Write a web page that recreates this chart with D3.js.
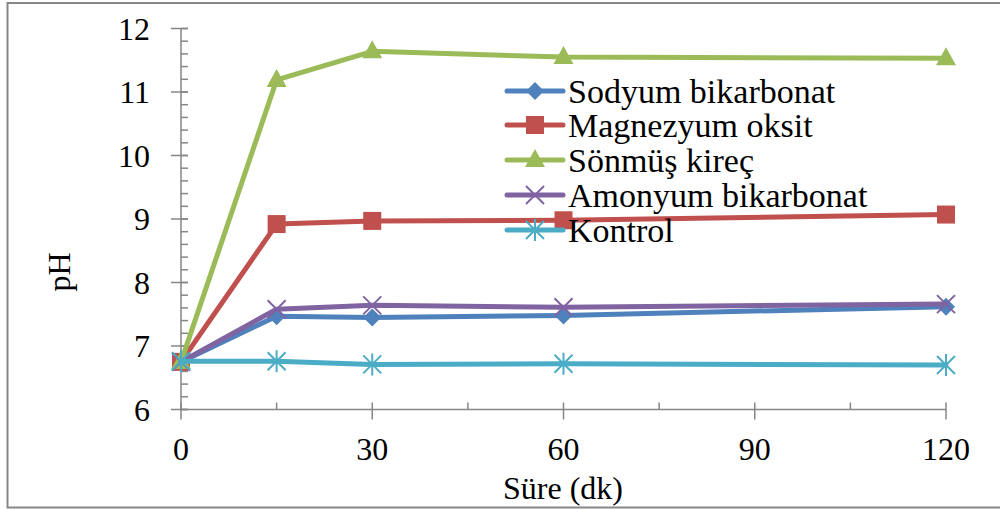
<!DOCTYPE html>
<html>
<head>
<meta charset="utf-8">
<script src="https://cdn.jsdelivr.net/npm/d3@7"></script>
<style>
  html, body { margin: 0; padding: 0; background: #fff; }
  svg { display: block; }
  text { font-family: "Liberation Serif", "DejaVu Serif", serif; fill: #000; }
</style>
</head>
<body>
<svg id="chart" width="1000" height="510"></svg>
<script>
// Sampling times (minutes)
const times = [0, 15, 30, 60, 120];

// pH readings per treatment
const sodyumBikarbonat   = [6.75, 7.47, 7.45, 7.48, 7.62];
const magnezyumOksit     = [6.75, 8.92, 8.97, 8.98, 9.07];
const sonmusKirec        = [6.75, 11.19, 11.64, 11.55, 11.53];
const amonyumBikarbonat  = [6.75, 7.58, 7.64, 7.61, 7.66];
const kontrol            = [6.76, 6.76, 6.71, 6.72, 6.70];

const seriesNames = ["Sodyum bikarbonat", "Magnezyum oksit", "Sönmüş kireç", "Amonyum bikarbonat", "Kontrol"];
const xTicks = [0, 30, 60, 90, 120];
const yTicks = [6, 7, 8, 9, 10, 11, 12];

const seriesValues = [sodyumBikarbonat, magnezyumOksit, sonmusKirec, amonyumBikarbonat, kontrol];
const colors = ["#4F81BD", "#C0504D", "#9BBB59", "#8064A2", "#4BACC6"];
const shapes = ["diamond", "square", "triangle", "x", "star"];

const svg = d3.select("#chart");
const axisColor = "#868686";

// Outer frame (open on the right)
svg.append("rect")
  .attr("x", 7.5).attr("y", 3).attr("width", 1010).attr("height", 504.5)
  .attr("fill", "none").attr("stroke", axisColor).attr("stroke-width", 2);

const x = d3.scaleLinear().domain([0, 120]).range([181, 946]);
const y = d3.scaleLinear().domain([6, 12]).range([409.5, 28.5]);

// Y axis: major ticks crossing, minor ticks inside
const yAxisG = svg.append("g");
yAxisG.append("line")
  .attr("x1", x(0)).attr("x2", x(0)).attr("y1", y(6)).attr("y2", y(12))
  .attr("stroke", axisColor).attr("stroke-width", 1.5);
const yMinor = d3.range(6, 12.001, 0.2);
yAxisG.selectAll("line.minor").data(yMinor).join("line")
  .attr("class", "minor")
  .attr("x1", x(0)).attr("x2", x(0) + 7)
  .attr("y1", d => y(d)).attr("y2", d => y(d))
  .attr("stroke", axisColor).attr("stroke-width", 1.5);
yAxisG.selectAll("line.major").data(yTicks).join("line")
  .attr("class", "major")
  .attr("x1", x(0) - 10).attr("x2", x(0) + 7)
  .attr("y1", d => y(d)).attr("y2", d => y(d))
  .attr("stroke", axisColor).attr("stroke-width", 1.5);
yAxisG.selectAll("text").data(yTicks).join("text")
  .attr("x", 150).attr("y", d => y(d))
  .attr("dy", "0.35em")
  .attr("text-anchor", "end")
  .attr("font-size", 32)
  .text(d => d);

// X axis: major ticks crossing, minor ticks inside
const xAxisG = svg.append("g");
xAxisG.append("line")
  .attr("x1", x(0)).attr("x2", x(120)).attr("y1", y(6)).attr("y2", y(6))
  .attr("stroke", axisColor).attr("stroke-width", 1.5);
const xMinor = [15, 45, 75, 105];
xAxisG.selectAll("line.minor").data(xMinor).join("line")
  .attr("class", "minor")
  .attr("x1", d => x(d)).attr("x2", d => x(d))
  .attr("y1", y(6) - 7).attr("y2", y(6))
  .attr("stroke", axisColor).attr("stroke-width", 1.5);
xAxisG.selectAll("line.major").data(xTicks).join("line")
  .attr("class", "major")
  .attr("x1", d => x(d)).attr("x2", d => x(d))
  .attr("y1", y(6) - 7).attr("y2", y(6) + 10)
  .attr("stroke", axisColor).attr("stroke-width", 1.5);
xAxisG.selectAll("text").data(xTicks).join("text")
  .attr("x", d => x(d)).attr("y", 460)
  .attr("text-anchor", "middle")
  .attr("font-size", 32)
  .text(d => d);

// Axis titles
svg.append("text")
  .attr("x", 563).attr("y", 499)
  .attr("text-anchor", "middle")
  .attr("font-size", 32)
  .text("Süre (dk)");
svg.append("text")
  .attr("transform", "translate(70,272) rotate(-90)")
  .attr("text-anchor", "middle")
  .attr("font-size", 32)
  .text("pH");

// Marker drawing
function drawMarker(g, shape, color, cx, cy) {
  if (shape === "diamond") {
    g.append("path")
      .attr("d", `M${cx},${cy - 9}L${cx + 9},${cy}L${cx},${cy + 9}L${cx - 9},${cy}Z`)
      .attr("fill", color);
  } else if (shape === "square") {
    g.append("rect")
      .attr("x", cx - 9).attr("y", cy - 9).attr("width", 18).attr("height", 18)
      .attr("fill", color);
  } else if (shape === "triangle") {
    g.append("path")
      .attr("d", `M${cx},${cy - 11}L${cx + 10},${cy + 7}L${cx - 10},${cy + 7}Z`)
      .attr("fill", color);
  } else if (shape === "x") {
    g.append("path")
      .attr("d", `M${cx - 9},${cy - 9}L${cx + 9},${cy + 9}M${cx - 9},${cy + 9}L${cx + 9},${cy - 9}`)
      .attr("stroke", color).attr("stroke-width", 2).attr("fill", "none");
  } else if (shape === "star") {
    g.append("path")
      .attr("d", `M${cx - 9},${cy - 9}L${cx + 9},${cy + 9}M${cx - 9},${cy + 9}L${cx + 9},${cy - 9}M${cx},${cy - 11}L${cx},${cy + 11}`)
      .attr("stroke", color).attr("stroke-width", 2).attr("fill", "none");
  }
}

const line = d3.line().x(d => x(d[0])).y(d => y(d[1]));

// Series lines and markers
seriesValues.forEach((vals, i) => {
  const pts = times.map((t, j) => [t, vals[j]]);
  const g = svg.append("g");
  g.append("path")
    .attr("d", line(pts))
    .attr("fill", "none")
    .attr("stroke", colors[i])
    .attr("stroke-width", 5)
    .attr("stroke-linejoin", "round")
    .attr("stroke-linecap", "round");
  pts.forEach(p => drawMarker(g, shapes[i], colors[i], x(p[0]), y(p[1])));
});

// Legend
const legendRowY = [91, 125, 160, 195, 230];
seriesNames.forEach((name, i) => {
  const g = svg.append("g");
  const cy = legendRowY[i];
  g.append("line")
    .attr("x1", 507).attr("x2", 563).attr("y1", cy).attr("y2", cy)
    .attr("stroke", colors[i]).attr("stroke-width", 5)
    .attr("stroke-linecap", "round");
  drawMarker(g, shapes[i], colors[i], 535, cy);
  g.append("text")
    .attr("x", 568).attr("y", cy)
    .attr("dy", "0.35em")
    .attr("font-size", 34)
    .text(name);
});
</script>
</body>
</html>
